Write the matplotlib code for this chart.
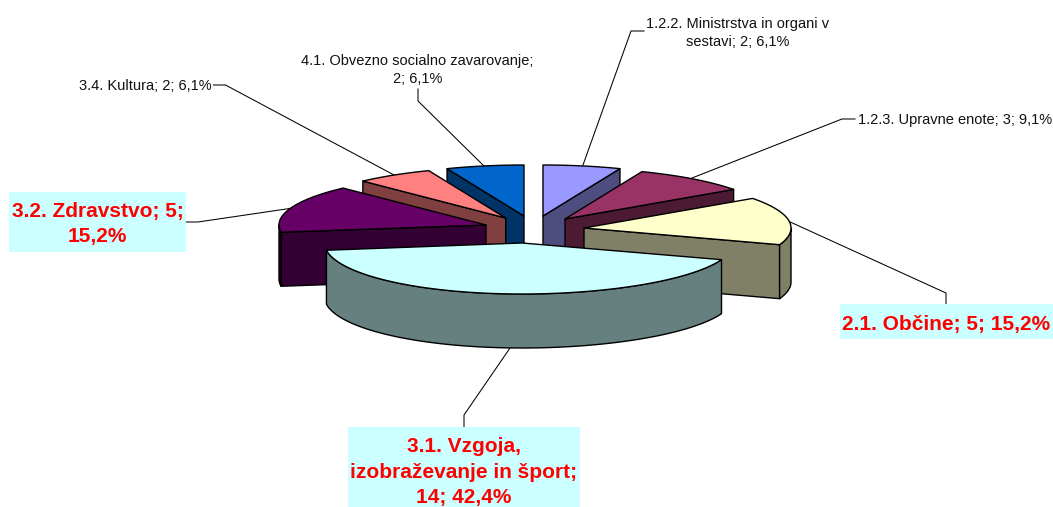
import numpy as np
import matplotlib
matplotlib.use("Agg")
import matplotlib.pyplot as plt
from matplotlib.patches import Polygon, Rectangle

plt.rcParams['font.family'] = ['Liberation Sans', 'DejaVu Sans']

# data (clockwise from 12 o'clock)
categories = ["1.2.2. Ministrstva in organi v\nsestavi", "1.2.3. Upravne enote", "2.1. Občine",
              "3.1. Vzgoja,\nizobraževanje in šport", "3.2. Zdravstvo", "3.4. Kultura",
              "4.1. Obvezno socialno zavarovanje"]
values = [2, 3, 5, 14, 5, 2, 2]
percent_labels = ["6,1%", "9,1%", "15,2%", "42,4%", "15,2%", "6,1%", "6,1%"]
top_colors = ["#9999FF", "#993366", "#FFFFCC", "#CCFFFF", "#660066", "#FF8080", "#0066CC"]
side_colors = ["#4D4D80", "#4D1A33", "#808066", "#668080", "#330033", "#804040", "#003366"]

# layout (pixels)
W, H = 1053, 507
RX, RY, DEPTH = 207, 51, 54
apex = [(543, 216), (565, 219), (584, 228), (522, 243), (486, 225), (505.7, 218), (524, 216)]
rx_skew = [0, 0, 0, 7, 0, 0, 0]
rx_base = [RX, RX, RX, 204.5, RX, RX, RX]
draw_order = [6, 0, 5, 1, 4, 2, 3]

label_text = [
    "1.2.2. Ministrstva in organi v\nsestavi; 2; 6,1%", "1.2.3. Upravne enote; 3; 9,1%",
    "2.1. Občine; 5; 15,2%", "3.1. Vzgoja,\nizobraževanje in šport;\n14; 42,4%",
    "3.2. Zdravstvo; 5;\n15,2%", "3.4. Kultura; 2; 6,1%",
    "4.1. Obvezno socialno zavarovanje;\n2; 6,1%"]
label_xy = [(738, 33), (858, 120), (946, 324.5), (464, 472), (97.5, 224), (145.5, 86), (417.5, 70)]
label_bold = [False, False, True, True, True, False, False]
label_box = [None, None, (840, 304, 213, 35), (348, 427, 232, 80), (9, 192, 177, 60), None, None]
leaders = [
    [(644, 31), (631, 31), (583, 165)],
    [(855, 119), (842, 119), (692, 178)],
    [(788, 221), (946, 293), (946, 304)],
    [(510, 348), (464, 415), (464, 427)],
    [(186, 222), (198, 222), (293, 208)],
    [(213.5, 85), (225.5, 85), (394, 175)],
    [(418, 89), (418, 101), (484, 166)],
]

fig = plt.figure(figsize=(W / 100, H / 100), dpi=100, facecolor="white")
ax = fig.add_axes([0, 0, 1, 1])
ax.set_xlim(0, W)
ax.set_ylim(H, 0)
ax.axis("off")

edges = np.cumsum([0] + values) / sum(values) * 2 * np.pi
LW = 1.0


def rim(i, th):
    th = np.asarray(th)
    r = rx_base[i] + rx_skew[i] * np.sin(th)
    return np.column_stack([apex[i][0] + r * np.sin(th), apex[i][1] - RY * np.cos(th)])


for z, i in enumerate(draw_order):
    a, b = edges[i], edges[i + 1]
    base = 2 + z * 3
    ap = np.array(apex[i], float)
    drop = np.array([0, DEPTH])
    # cut face that turns to the viewer
    if b <= np.pi:
        e = rim(i, [b])[0]
    elif a >= np.pi:
        e = rim(i, [a])[0]
    else:
        e = None
    if e is not None:
        ax.add_patch(Polygon([ap, e, e + drop, ap + drop], closed=True, fc=side_colors[i],
                             ec="black", lw=LW, joinstyle="round", zorder=base))
    # outer wall (front half of the rim only)
    lo, hi = max(a, np.pi / 2), min(b, 3 * np.pi / 2)
    if hi > lo:
        th = np.linspace(lo, hi, 120)
        up = rim(i, th)
        ax.add_patch(Polygon(np.vstack([up, (up + drop)[::-1]]), closed=True, fc=side_colors[i],
                             ec="black", lw=LW, joinstyle="round", zorder=base + 1))
    # top
    th = np.linspace(a, b, 120)
    ax.add_patch(Polygon(np.vstack([ap, rim(i, th)]), closed=True, fc=top_colors[i],
                         ec="black", lw=LW, joinstyle="round", zorder=base + 2))

for i, pts in enumerate(leaders):
    xs, ys = zip(*pts)
    ax.plot(xs, ys, color="black", lw=0.75, zorder=1, solid_joinstyle="miter")
    if label_box[i]:
        x, y, w, h = label_box[i]
        ax.add_patch(Rectangle((x, y), w, h, fc="#CCFFFF", ec="none", zorder=30))
    xy = label_xy[i]
    if label_bold[i]:
        ax.text(*xy, label_text[i], ha="center", va="center", color="#FF0000", fontsize=15,
                fontweight="bold", linespacing=1.45, zorder=31)
    else:
        ax.text(*xy, label_text[i], ha="left" if i == 1 else "center", va="center", color="#111111",
                fontsize=10.5, linespacing=1.28, zorder=31)

fig.savefig("out.png", dpi=100, facecolor="white")
